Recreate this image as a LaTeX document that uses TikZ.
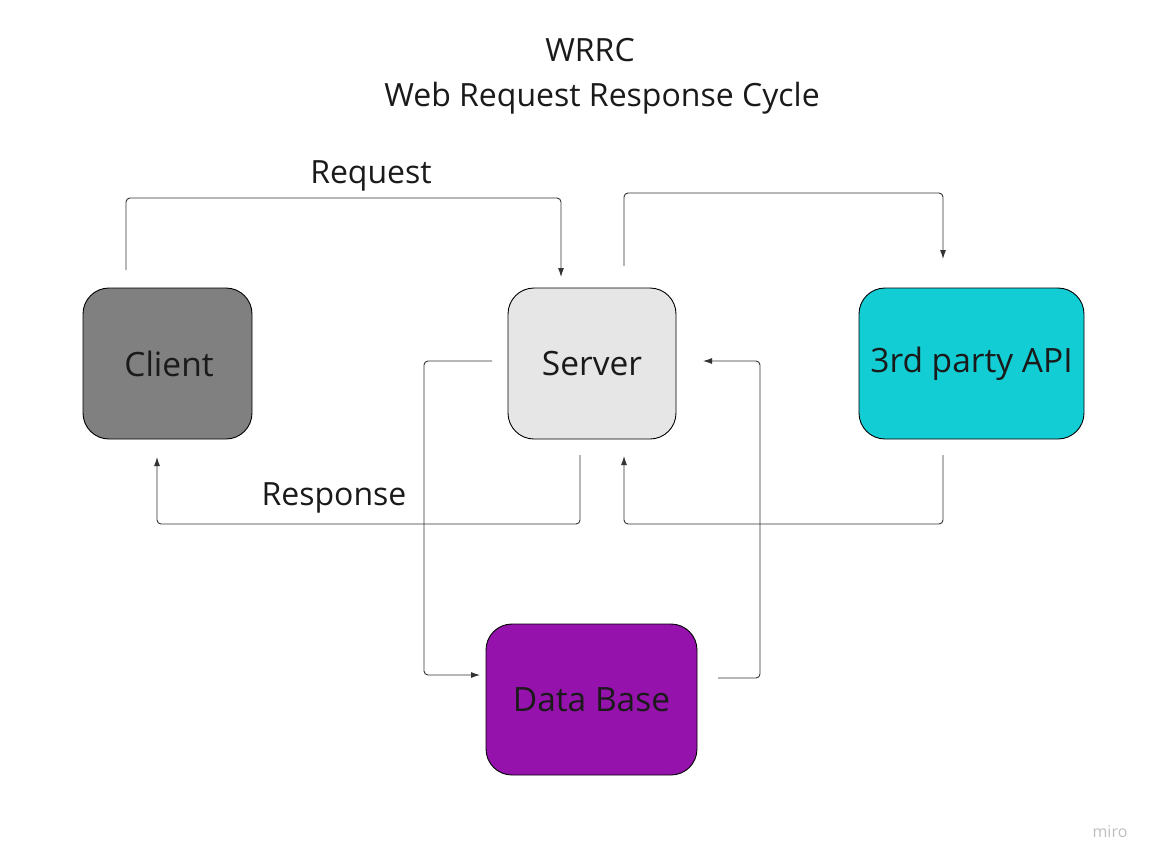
\documentclass[tikz,border=0pt]{standalone}
\usepackage{fontspec}
\setmainfont{Open Sans}
\usetikzlibrary{arrows.meta}
\definecolor{clientgray}{HTML}{808080}
\definecolor{servergray}{HTML}{E6E6E6}
\definecolor{apicyan}{HTML}{12CDD4}
\definecolor{dbpurple}{HTML}{9512AD}
\definecolor{txt}{HTML}{1A1A1A}
\definecolor{wire}{HTML}{333333}
\tikzset{
  box/.style={draw=black, line width=0.9pt, rounded corners=26pt, inner sep=0pt, text=txt,
    font=\fontsize{33.5}{38}\selectfont},
  wirelink/.style={draw=wire, line width=0.9pt, rounded corners=4pt,
    -{Latex[length=9pt,width=6pt]}},
  lbl/.style={text=txt, font=\fontsize{32}{36}\selectfont, inner sep=0pt},
}
\begin{document}
\begin{tikzpicture}[x=1pt,y=-1pt]
\useasboundingbox[fill=white] (0,0) rectangle (1155,865);
% title
\node[lbl] (t1) at (590,50) {WRRC};
\node[lbl] (t2) at (602,98) {Web Request Response Cycle};
% boxes
\node[box, fill=clientgray, minimum width=169pt, minimum height=151pt] (client) at (167.5,363.5) {\hspace*{3pt}Client};
\node[box, fill=servergray, minimum width=168pt, minimum height=151pt] (server) at (592,363.5) {Server};
\node[box, fill=apicyan, minimum width=225pt, minimum height=151pt] (api) at (971.5,363.5) {3rd party API};
\node[box, fill=dbpurple, minimum width=211pt, minimum height=151pt] (db) at (591.5,699.5) {Data Base};
% labels
\node[lbl] (req) at (371,176) {Request};
\node[lbl] (resp) at (334,498) {Response};
% free-end coordinates
\coordinate (c1s) at (126,270);
\coordinate (c1e) at (561,277);
\coordinate (c2s) at (624,266);
\coordinate (c2e) at (943,259);
\coordinate (c3s) at (943,455);
\coordinate (c3e) at (624,456);
\coordinate (c4s) at (580,455);
\coordinate (c4e) at (157,457);
\coordinate (c5s) at (492,361);
\coordinate (c5e) at (480,675);
\coordinate (c6s) at (718,678);
\coordinate (c6e) at (703,361);
% connectors
\draw[wirelink] (c1s) |- (343,198) -| (c1e);
\draw[wirelink] (c2s) |- (780,193) -| (c2e);
\draw[wirelink] (c3s) |- (780,524) -| (c3e);
\draw[wirelink] (c4s) |- (370,524) -| (c4e);
\draw[wirelink] (c5s) -| (424,520) |- (c5e);
\draw[wirelink] (c6s) -| (760,520) |- (c6e);
% watermark
\node[text=black!25, font=\fontsize{16}{18}\selectfont, inner sep=0pt] (miro) at (1110,832) {miro};
\end{tikzpicture}
\end{document}
